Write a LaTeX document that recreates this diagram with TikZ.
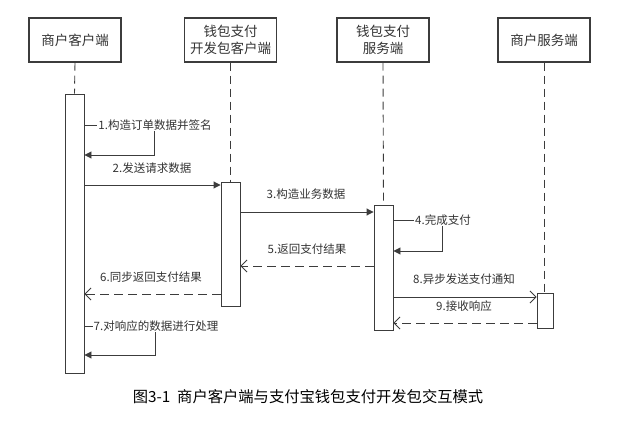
\documentclass[tikz,border=0pt]{standalone}
\usepackage{fontspec}
\setmainfont{Noto Sans CJK SC}
\usetikzlibrary{arrows.meta}
\definecolor{ln}{HTML}{3C3C3C}
\definecolor{tx}{HTML}{333333}
\tikzset{
  actor/.style={draw=ln,line width=1.1pt,minimum width=92pt,minimum height=44pt,inner sep=0pt,align=center,font=\fontsize{13.5}{17.5}\selectfont,text=tx},
  bar/.style={draw=ln,line width=0.9pt,fill=white,minimum width=19pt,inner sep=0pt},
  life/.style={draw=ln,line width=0.9pt,dash pattern=on 8pt off 5pt},
  sync/.style={draw=ln,line width=0.9pt,-{Triangle[length=7pt,width=7pt]}},
  async/.style={draw=ln,line width=0.9pt,-{Straight Barb[length=6pt,width=12pt]}},
  reply/.style={draw=ln,line width=0.9pt,dash pattern=on 9pt off 5pt,-{Straight Barb[length=6pt,width=12pt]}},
  lbl/.style={font=\fontsize{11.5}{13}\selectfont,text=tx,inner sep=1pt},
  lblw/.style={lbl,fill=white}
}
\begin{document}
\begin{tikzpicture}[x=1pt,y=-1pt]
\useasboundingbox (0,0) rectangle (617,427);
% actors
\node[actor] (a1) at (75,40) {商户客户端};
\node[actor] (a2) at (230.5,40) {钱包支付\\开发包客户端};
\node[actor] (a3) at (383,40) {钱包支付\\服务端};
\node[actor] (a4) at (544,40) {商户服务端};
% activation bars
\node[bar,minimum height=279pt] (b1) at (74.5,233.5) {};
\node[bar,minimum height=124pt] (b2) at (230.5,244) {};
\node[bar,minimum height=125pt] (b3) at (383.5,267.5) {};
\node[bar,minimum width=16pt,minimum height=35pt] (b4) at (545,310.5) {};
% lifelines
\draw[life] (a1.south) -- (b1.north);
\draw[life] (a2.south) -- (b2.north);
\draw[life] (a3.south) -- (b3.north);
\draw[life] (a4.south) -- (a4.south |- b4.north);
% 1 self message
\draw[sync] (b1.east |- 0,125) -- (154,125) -- (154,155) -- (b1.east |- 0,155);
\node[lblw] (l1) at (155,125) {1.构造订单数据并签名};
% 2
\node[lbl] (l2) at (152,168) {2.发送请求数据};
\draw[sync] (b1.east |- 0,185) -- (b2.west |- 0,185);
% 3
\node[lbl] (l3) at (306,194) {3.构造业务数据};
\draw[sync] (b2.east |- 0,212) -- (b3.west |- 0,212);
% 4 self message
\draw[sync] (b3.east |- 0,220) -- (442,220) -- (442,251) -- (b3.east |- 0,251);
\node[lblw] (l4) at (443,220) {4.完成支付};
% 5
\node[lbl] (l5) at (307,249) {5.返回支付结果};
\draw[reply] (b3.west |- 0,266) -- (b2.east |- 0,266);
% 6
\node[lbl] (l6) at (151,277) {6.同步返回支付结果};
\draw[reply] (b2.west |- 0,294) -- (b1.east |- 0,294);
% 7 self message
\draw[sync] (b1.east |- 0,326) -- (155,326) -- (155,355) -- (b1.east |- 0,355);
\node[lblw] (l7) at (156,326) {7.对响应的数据进行处理};
% 8
\node[lbl] (l8) at (464,279) {8.异步发送支付通知};
\draw[async] (b3.east |- 0,297) -- (b4.west |- 0,297);
% 9
\node[lbl] (l9) at (464,306) {9.接收响应};
\draw[reply] (b4.west |- 0,323) -- (b3.east |- 0,323);
% caption
\node[font=\fontsize{15.3}{17}\selectfont,text=black,inner sep=0pt] (cap) at (308,397) {图3-1\ \ 商户客户端与支付宝钱包支付开发包交互模式};
\end{tikzpicture}
\end{document}
